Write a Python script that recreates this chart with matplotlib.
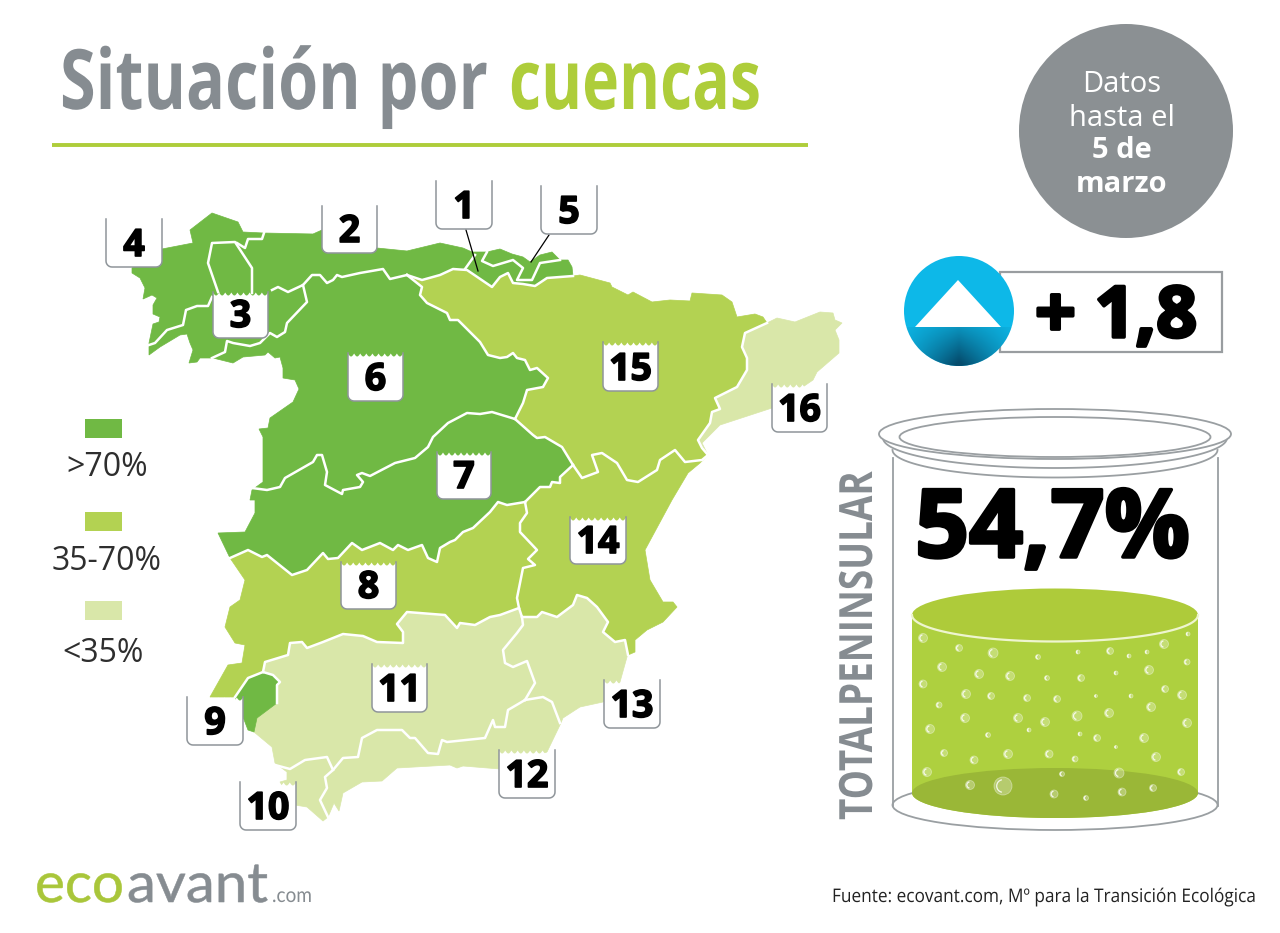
import numpy as np
import matplotlib
matplotlib.use('Agg')
import matplotlib.pyplot as plt
from matplotlib.patches import Polygon, Circle, Ellipse, Rectangle, Arc
from matplotlib.transforms import Affine2D, Bbox
import matplotlib.patheffects as pe

DARK = '#70b944'
MID = '#b3d252'
PALE = '#d9e7a9'
GREY = '#868c91'
LIME = '#aecd3a'
WALL = '#8f959a'

# map outlines (pixels)
north_coast = [(132,268),(162,249),(193,243),(190,230),(212,213),(238,222),(243,232),(263,233),(313,234),(322,230),
               (377,248),(407,251),(440,243),(463,248),(472,252),(487,252),(500,249),(512,254),(523,257),(530,262),
               (540,255),(552,252),(560,260),(568,260),(572,267),(573,276)]
ebro_top = [(407,275),(422,280),(440,275),(453,269),(467,270),(492,287),(500,277),(508,273),(513,283),(523,284),
            (535,286),(547,278),(573,276)]
ebro_coast = [(580,275),(610,283),(612,287),(628,295),(633,292),(652,302),(670,300),(690,301),(692,293),(722,295),
              (732,302),(737,317),(755,314),(763,317),(767,323)]
ebro_cat = [(767,323),(745,333),(742,347),(747,358),(747,370),(737,387),(715,398),(720,409),(712,412),(710,423),
            (698,440),(702,448),(708,455)]
cat_coast = [(777,318),(795,322),(820,312),(833,313),(835,320),(842,323),(835,330),(839,340),(839,353),(817,372),
             (813,380),(772,408),(720,425),(702,443)]
duero_ebro = [(407,275),(422,287),(420,295),(427,303),(447,313),(450,320),(458,320),(480,342),(488,355),(500,358),
              (507,357),(513,353),(517,358),(525,360),(530,370),(537,368),(548,378),(543,387),(527,390),(523,403),(515,419)]
tajo_ebro = [(515,419),(533,435),(537,438),(545,437),(562,447),(573,465)]
tajo_jucar = [(573,465),(560,477),(560,483),(552,482),(550,487),(540,487),(525,502)]
ebro_jucar = [(708,455),(702,460),(685,462),(675,450),(660,460),(657,470),(638,482),(627,480),(617,463),(602,453),
              (592,455),(598,472),(582,478),(573,465)]
tajo_guadiana = [(230,558),(248,550),(262,557),(267,555),(292,575),(307,570),(323,553),(328,559),(338,558),(352,543),
                 (362,550),(380,543),(393,550),(398,545),(408,550),(422,545),(428,558),(437,562),(440,548),(450,542),
                 (455,540),(463,532),(473,528),(490,512),(498,502),(507,505),(525,502)]
dark_west = [(218,533),(245,532),(255,513),(255,500),(250,500),(252,490),(263,482),(263,437),(259,429),(268,428),
             (270,418),(293,402),(299,389),(295,380),(283,378),(283,368),(280,357),(275,358),(268,352),(265,355),
             (243,357),(233,363),(213,358),(200,358),(197,362),(189,363),(193,350),(190,343),(187,334),(180,335),
             (160,347),(149,355),(149,343),(153,324),(159,322),(160,317),(153,314),(153,305),(157,298),(152,295),
             (143,299),(145,288),(140,278),(132,273)]
jucar_coast = [(700,463),(688,473),(672,500),(645,550),(650,580),(663,602),(673,602),(677,607),(663,622),(647,630),
               (635,640),(635,652),(628,655)]
jucar_segura = [(628,655),(625,640),(615,642),(603,632),(608,622),(597,607),(587,598),(577,595),(573,605),(557,617),
                (542,612),(537,617),(522,617)]
jucar_guadiana = [(525,502),(527,513),(520,523),(520,532),(537,550),(528,559),(535,565),(523,568),(517,598),(519,608),(522,617)]
guadiana_south = [(519,608),(500,615),(490,617),(475,625),(460,623),(457,628),(445,615),(407,612),(397,624),(403,632),
                  (403,643),(377,642),(363,636),(343,634),(323,642),(307,648),(302,642),(290,643),(288,655),(265,662),(263,672)]
guadiana_west = [(263,672),(248,678),(235,697),(210,697),(228,665),(242,663),(245,645),(235,643),(225,627),(230,607),
                 (240,600),(245,580),(230,558)]
tinto_zone = [(235,697),(248,678),(263,672),(273,675),(280,682),(277,685),(277,703),(257,718),(254,732),(248,730),(243,717)]
south_coast = [(273,675),(280,682),(277,685),(277,703),(257,718),(254,732),(272,747),(275,763),(287,772),(287,780),
               (280,782),(295,805),(307,807),(323,821),(328,817),(334,803),(339,811),(343,793),(362,782),(382,781),
               (397,768),(450,765),(457,768),(463,766),(500,769),(547,752),(560,725),(563,718),(580,707),(603,702),
               (620,682),(627,657)]

# inner boundaries
inner_lines = [
    [(218,292),(208,263),(212,243),(235,242),(252,268),(252,293)],
    [(237,243),(245,248),(248,239),(262,239),(264,233)],
    [(212,297),(208,306),(197,306),(186,310),(183,325),(167,330),(155,343),(149,345)],
    [(272,290),(278,287),(288,292),(303,285),(312,275),(320,275),(327,283),(333,280),(337,275),(342,277),(360,273),
     (383,269),(390,279),(407,275)],
    [(303,285),(307,302),(287,323),(285,332),(277,337),(270,333),(260,343),(250,346),(233,343),(227,341),(225,352),(212,358)],
    [(465,269),(475,255)],
    [(487,252),(482,261),(493,266),(513,260),(523,268),(517,280),(532,280),(540,263),(560,260)],
    [(252,488),(267,490),(280,487),(285,478),(313,462),(317,455),(322,455),(327,472),(325,485),(342,494),(343,490),
     (360,487),(363,482),(357,475),(362,473),(370,476),(395,463),(415,458),(428,447),(433,437),(448,423),(467,413),
     (480,414),(492,412),(515,419)],
    [(522,617),(523,625),(517,633),(503,650),(505,663),(513,667),(527,661),(535,683),(525,700)],
    [(525,700),(508,710),(505,727),(495,727),(493,720),(485,738),(447,742),(442,740),(438,754),(428,753),(415,738),
     (410,738),(402,730),(377,730),(362,738),(358,757),(343,758),(333,770),(325,777),(327,788),(320,800),(328,817)],
    [(525,700),(543,697),(552,702),(560,723)],
    [(275,765),(290,769),(305,760),(327,757),(333,770)],
]

# numbered tags: number, left, top, right, bottom
tag_numbers = ['1','2','3','4','5','6','7','8','9','10','11','12','13','14','15','16']
tag_left = [436,322,213,106,541,348,437,341,187,240,372,499,604,570,603,772]
tag_top = [181,206,292,219,186,353,452,562,697,782,664,750,680,517,342,384]
tag_right = [492,377,268,162,597,403,491,396,243,296,427,555,660,626,658,827]
tag_bottom = [229,253,338,267,234,401,499,609,745,830,712,798,728,564,391,432]

legend_labels = ['>70%','35-70%','<35%']
legend_colors = [DARK, MID, PALE]

# bubbles in the jar
bubble_x = [923,959,993,1038,1078,1110,1129,1147,1164,1188,1187,942,979,1010,1047,1081,1116,1149,923,966,991,1027,1057,
            1096,1131,1165,1182,939,1151,965,1018,1045,1077,1109,1187,930,1029,988,1080,1097,1144,1116,944,1008,1049,
            974,1075,1156,927,1181,1062,1119,970,1003,1054,1122,1153,1086]
bubble_y = [638,648,653,657,652,651,656,652,644,634,662,667,674,676,678,678,673,670,684,694,696,698,699,696,696,689,695,
            705,707,718,718,722,716,713,723,729,730,735,734,738,738,747,753,754,754,760,759,757,772,772,774,773,785,786,
            794,792,788,798]
bubble_r = [4.5,3.5,5,2.5,2,3.5,2,2,4.5,2,3,4.5,4.5,4.5,2.5,3.5,2,4.5,4,4.5,3.5,3.5,3.5,1.5,2,3.5,4.5,3,4.5,4.5,4.5,4.5,
            5,4.5,4.5,4.5,2,2.5,2,3.5,4.5,1.5,3.5,4.5,4,4,3,4.5,4.5,3.5,2.5,5,4.5,9,4,4,3.5,2.5]

fig = plt.figure(figsize=(12.8, 9.33), dpi=100)
ax = fig.add_axes([0, 0, 1, 1])
ax.set_xlim(0, 1280)
ax.set_ylim(933, 0)
ax.axis('off')


# squeezes text sideways, no condensed font is installed
class Squeeze(pe.AbstractPathEffect):
    def __init__(self, sx, stroke=0):
        super().__init__()
        self.sx = sx
        self.stroke = stroke

    def draw_path(self, renderer, gc, tpath, affine, rgbFace=None):
        gc0 = renderer.new_gc()
        gc0.copy_properties(gc)
        gc0.set_linewidth(self.stroke)
        if self.stroke:
            gc0.set_foreground(rgbFace)
        renderer.draw_path(gc0, tpath, Affine2D().scale(self.sx, 1) + affine, rgbFace)
        gc0.restore()


def fit_text(x, y, s, width, rotation=0, stroke=0, **kw):
    t = ax.text(x, y, s, ha='left', va='baseline', **kw)
    w = t.get_window_extent(fig.canvas.get_renderer()).width
    sx = width / w
    t.set_rotation(rotation)
    t.set_rotation_mode('anchor')
    t.set_path_effects([Squeeze(sx, stroke)])
    # the reported box has to follow the squeezed drawing
    full_extent = t.get_window_extent

    def squeezed_extent(renderer=None, dpi=None):
        bb = full_extent(renderer, dpi)
        if rotation == 90:
            return Bbox.from_extents(bb.x0, bb.y0, bb.x1, bb.y0 + bb.height * sx)
        return Bbox.from_extents(bb.x0, bb.y0, bb.x0 + bb.width * sx, bb.y1)

    t.get_window_extent = squeezed_extent
    return t


# title
fit_text(60, 109, 'Situación por', 428, family='Open Sans', weight='bold', fontsize=60, color=GREY)
fit_text(509, 109, 'cuencas', 252, family='Open Sans', weight='bold', fontsize=60, color=LIME)
ax.plot([52, 808], [144.5, 144.5], color=LIME, lw=2.8, solid_capstyle='butt')

# date circle
ax.add_patch(Circle((1126, 131), 107, color='#8b9093', lw=0))
date_lines = ['Datos', 'hasta el', '5 de', 'marzo']
date_y = [85, 118, 151, 185]
date_w = ['normal', 'normal', 'bold', 'bold']
for s, y, w in zip(date_lines, date_y, date_w):
    ax.text(1122, y, s, family='Open Sans', weight=w, fontsize=21, color='white', ha='center', va='center')

# map
ax.add_patch(Polygon(north_coast + ebro_top[::-1] + duero_ebro + tajo_ebro + tajo_jucar + tajo_guadiana[::-1] + dark_west,
                     fc=DARK, ec=DARK, lw=0.5, zorder=2))
ax.add_patch(Polygon(ebro_top + ebro_coast + ebro_cat + ebro_jucar + tajo_ebro[::-1] + duero_ebro[::-1], fc=MID, ec=MID, lw=0.5, zorder=2))
ax.add_patch(Polygon(ebro_cat[::-1] + cat_coast, fc=PALE, ec=PALE, lw=0.5, zorder=2))
ax.add_patch(Polygon(ebro_jucar[::-1] + jucar_coast + jucar_segura + jucar_guadiana[::-1] + tajo_jucar[::-1], fc=MID, ec=MID, lw=0.5, zorder=2))
ax.add_patch(Polygon(tajo_guadiana + jucar_guadiana + guadiana_south + guadiana_west, fc=MID, ec=MID, lw=0.5, zorder=2))
ax.add_patch(Polygon(guadiana_south + south_coast + jucar_segura, fc=PALE, ec=PALE, lw=0.5, zorder=2))
ax.add_patch(Polygon(tinto_zone, fc=DARK, ec=DARK, lw=0.5, zorder=2))

white_lines = inner_lines + [ebro_top, duero_ebro, tajo_ebro, tajo_jucar, ebro_jucar, ebro_cat, tajo_guadiana,
                             jucar_guadiana, jucar_segura, guadiana_south, tinto_zone[:7]]
for line in white_lines:
    xs, ys = zip(*line)
    ax.plot(xs, ys, color='white', lw=1.8, zorder=3, solid_joinstyle='round')

# leader lines for 1 and 5
ax.plot([466, 478], [230, 271], color='black', lw=0.9, zorder=4)
ax.plot([549, 531], [235, 262], color='black', lw=0.9, zorder=4)

# tags
corner = np.linspace(0, np.pi / 2, 8)
rad = 6
for num, l, t, r, b in zip(tag_numbers, tag_left, tag_top, tag_right, tag_bottom):
    wx = np.linspace(l, r, 181)
    wy = t + 0.5 + 3 * np.abs(np.sin(np.pi * (wx - l) / ((r - l) / 9)))
    edge = [(l, t)] + [(l + rad - rad * np.cos(a), b - rad + rad * np.sin(a)) for a in corner]
    edge += [(r - rad + rad * np.sin(a), b - rad + rad * np.cos(a)) for a in corner] + [(r, t)]
    ax.add_patch(Polygon(edge[1:-1] + list(zip(wx[::-1], wy[::-1])), fc='white', ec='none', zorder=5))
    ex, ey = zip(*edge)
    ax.plot(ex, ey, color=WALL, lw=1.1, zorder=6)
    ax.text((l + r) / 2, b - 21, num, family='Open Sans', weight='bold', fontsize=27, color='black', ha='center',
            va='center', zorder=7, path_effects=[pe.withStroke(linewidth=1.2, foreground='black')])

# legend
for lab, col, sy, ty, tx in zip(legend_labels, legend_colors, [419, 512, 601], [468, 562, 653], [107, 107, 103]):
    ax.add_patch(Rectangle((85, sy), 37, 19, fc=col, ec='none'))
    ax.text(tx, ty, lab, family='Open Sans', fontsize=23, color='#2e2e2e', ha='center', va='center')

# +1,8 box and arrow badge
ax.add_patch(Rectangle((1000, 272), 222, 80, fc='white', ec='#999da0', lw=1.6, zorder=2))
ax.add_patch(Circle((959, 311), 55, fc='#0db8e8', ec='none', zorder=3))
yy, xx = np.mgrid[0:1:60j, 0:1:120j]
shade = np.zeros((60, 120, 4))
shade[..., 0] = 0.02
shade[..., 1] = 0.30
shade[..., 2] = 0.43
shade[..., 3] = np.clip((0.35 + 0.75 * yy) * (1 - np.abs(xx - 0.5) * 1.7), 0, 1)
im = ax.imshow(shade, extent=(904, 1014, 367, 327), aspect='auto', zorder=4)
im.set_clip_path(Circle((959, 311), 55, transform=ax.transData))
ax.set_xlim(0, 1280)
ax.set_ylim(933, 0)
ax.add_patch(Polygon([(958, 280), (915, 327), (1001, 327)], fc='white', ec='none', zorder=5))
fit_text(1035, 337, '+ 1,8', 162, stroke=2.5, family='Open Sans', weight='bold', fontsize=51, color='black', zorder=6)


# jar
def half_ellipse(cx, cy, w, h, a0=0, a1=180):
    a = np.radians(np.linspace(a0, a1, 80))
    return cx + w / 2 * np.cos(a), cy + h / 2 * np.sin(a)


JAR = '#9a9fa2'
ax.add_patch(Ellipse((1055, 805), 325, 50, fc='white', ec=JAR, lw=1.3, zorder=2))
ax.plot([893, 893], [458, 806], color=JAR, lw=1.3, zorder=2)
ax.plot([1218, 1218], [458, 806], color=JAR, lw=1.3, zorder=2)
ax.add_patch(Ellipse((1055, 434), 352, 50, fc='white', ec=JAR, lw=1.3, zorder=3))
ax.add_patch(Ellipse((1055, 437), 311, 40, fc='white', ec=JAR, lw=1.3, zorder=3))
ax.plot(*half_ellipse(1055, 438, 344, 60), color=JAR, lw=1.3, zorder=2)
ax.plot(*half_ellipse(1055, 450, 325, 55), color=JAR, lw=1.3, zorder=2)

lx, ly = half_ellipse(1055, 793, 286, 50)
body = list(zip(lx, ly)) + [(912, 615), (1198, 615)]
ax.add_patch(Polygon(body, fc='#aed03f', ec='none', zorder=3))
ax.add_patch(Ellipse((1055, 793), 286, 50, fc='#9ab737', ec='none', zorder=4))
ax.add_patch(Ellipse((1055, 615), 286, 53, fc='#aecb3a', ec='none', zorder=4))
ax.plot(*half_ellipse(1055, 615, 286, 53), color='#eef5cf', lw=1.6, zorder=5)
for x, y, r in zip(bubble_x, bubble_y, bubble_r):
    ax.add_patch(Circle((x, y), r, fc=(1, 1, 1, 0.28), ec=(1, 1, 1, 0.4), lw=0.6, zorder=6))
    ax.add_patch(Arc((x, y), 1.4 * r, 1.4 * r, theta1=100, theta2=260, color=(1, 1, 1, 0.85), lw=0.9, zorder=6))

fit_text(915, 557, '54,7%', 275, stroke=2.5, family='Open Sans', weight='bold', fontsize=68, color='black', zorder=6)
fit_text(872, 820, 'TOTALPENINSULAR', 349, rotation=90, family='Open Sans', weight='bold', fontsize=33, color=GREY)

# footer
fit_text(35, 902, 'eco', 89, stroke=0.4, family='Lato', fontsize=40, color='#a9c63a')
fit_text(127, 902, 'avant', 141, stroke=0.4, family='Lato', fontsize=40, color=GREY)
fit_text(272, 902, '.com', 40, family='Lato', fontsize=15, color=GREY)
fit_text(832, 902, 'Fuente: ecovant.com, Mº para la Transición Ecológica', 424, family='Open Sans', fontsize=13.5, color='#222222')

fig.savefig('out.png', dpi=100)
